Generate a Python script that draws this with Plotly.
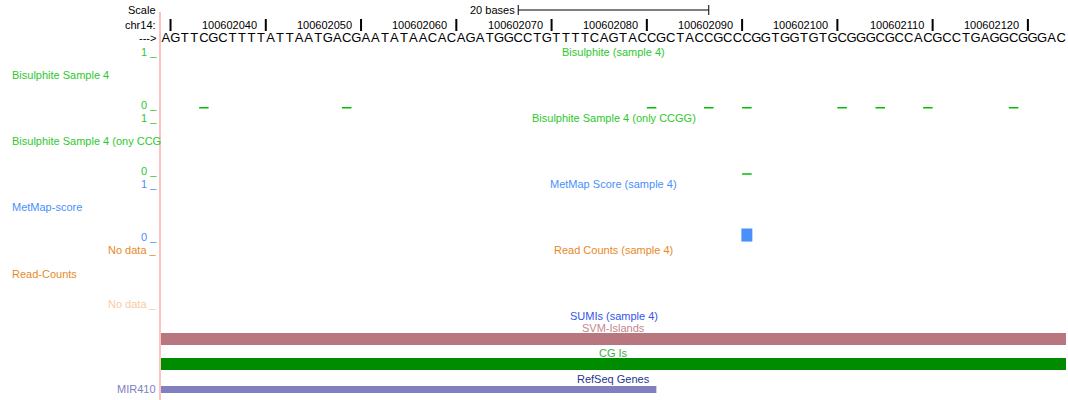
import plotly.graph_objects as go

# window (0-based start) and the reference sequence shown in it
win_start = 100602029
sequence = "AGTTCGCTTTTATTAATGACGAATATAACACAGATGGCCTGTTTTCAGTACCGCTACCGCCCGGTGGTGTGCGGGCGCCACGCCTGAGGCGGGAC"
win_end = win_start + len(sequence)

tick_pos = [100602030, 100602040, 100602050, 100602060, 100602070,
            100602080, 100602090, 100602100, 100602110, 100602120]
tick_labels = ["", "100602040", "100602050", "100602060", "100602070",
               "100602080", "100602090", "100602100", "100602110", "100602120"]
scale_bases = 20

# wiggle tracks (position = 0-based start of the base)
bisulphite_pos = [100602033, 100602048, 100602080, 100602086, 100602090,
                  100602100, 100602104, 100602109, 100602118]
bisulphite_val = [0, 0, 0, 0, 0, 0, 0, 0, 0]
ccgg_pos = [100602090]
ccgg_val = [0]
metmap_pos = [100602090]
metmap_val = [0.25]

# feature tracks
svm_islands = [(100602029, 100602124)]
cg_islands = [(100602029, 100602124)]
refseq_genes = [("MIR410", 100602029, 100602081)]

FONT = "Liberation Sans, Arial, Helvetica, sans-serif"
W, H = 1068, 400
L, R = 161, 2

GREEN_TXT = "#2ec82e"
GREEN = "#00be00"
BLUE = "#4a8ffc"
ORANGE = "#e8892a"
ORANGE_LT = "#f8cba4"


def px(x):
    return (x - L) / (W - L - R)


def py(y):
    return 1 - y / H


fig = go.Figure()

# sequence letters
fig.add_trace(go.Scatter(
    x=[win_start + i + 0.5 for i in range(len(sequence))],
    y=[38.5] * len(sequence),
    mode="text", text=list(sequence),
    textfont=dict(family=FONT, size=13, color="black"),
    cliponaxis=False, hoverinfo="skip", yaxis="y"))


def segs(pos, val):
    xs, ys = [], []
    for p, v in zip(pos, val):
        xs += [p, p + 1, None]
        ys += [v, v, None]
    return xs, ys


bx, by = segs(bisulphite_pos, bisulphite_val)
fig.add_trace(go.Scatter(x=bx, y=by, mode="lines", line=dict(color=GREEN, width=3),
                         yaxis="y2", hoverinfo="skip"))
cx, cy = segs(ccgg_pos, ccgg_val)
fig.add_trace(go.Scatter(x=cx, y=cy, mode="lines", line=dict(color=GREEN, width=3),
                         yaxis="y3", hoverinfo="skip"))
fig.add_trace(go.Bar(x=[p + 0.5 for p in metmap_pos], y=metmap_val, width=1.15,
                     marker=dict(color=BLUE, line_width=0), yaxis="y4", hoverinfo="skip"))

shapes = []
# ruler ticks
for t in tick_pos:
    shapes.append(dict(type="line", xref="x", yref="y", x0=t, x1=t, y0=19, y1=31,
                       line=dict(color="black", width=2)))
# scale bar
mid = (win_start + win_end) / 2
s0, s1 = mid - scale_bases / 2, mid + scale_bases / 2
shapes.append(dict(type="line", xref="x", yref="y", x0=s0, x1=s1, y0=10, y1=10,
                   line=dict(color="black", width=1)))
for s in (s0, s1):
    shapes.append(dict(type="line", xref="x", yref="y", x0=s, x1=s, y0=5, y1=15,
                       line=dict(color="black", width=1)))
# pink guide line
shapes.append(dict(type="line", xref="paper", yref="y", x0=px(160), x1=px(160), y0=12, y1=400,
                   line=dict(color="#ffc0c0", width=2)))
# feature bars
for a, b in svm_islands:
    shapes.append(dict(type="rect", xref="x", yref="y", x0=a, x1=b, y0=333, y1=345,
                       fillcolor="#b8777f", line_width=0))
for a, b in cg_islands:
    shapes.append(dict(type="rect", xref="x", yref="y", x0=a, x1=b, y0=358, y1=370,
                       fillcolor="#008c00", line_width=0))
for name, a, b in refseq_genes:
    shapes.append(dict(type="rect", xref="x", yref="y", x0=a, x1=b, y0=386, y1=393,
                       fillcolor="#8080c0", line_width=0))

ann = []


def text(x, y, s, color="black", anchor="right", size=11):
    ann.append(dict(xref="paper", yref="paper", x=px(x), y=py(y), text=s, showarrow=False,
                    xanchor=anchor, yanchor="middle", font=dict(family=FONT, size=size, color=color)))


text(158, 10, "Scale")
text(158, 25, "chr14:")
text(158, 38, "--->")
text(517, 10, "20 bases")
for t, lab in zip(tick_pos, tick_labels):
    if lab:
        ann.append(dict(xref="x", yref="paper", x=t, y=py(25), text=lab, showarrow=False,
                        xanchor="right", yanchor="middle", xshift=-7,
                        font=dict(family=FONT, size=11, color="black")))

cx_mid = (L + W - R) / 2
text(cx_mid, 52, "Bisulphite (sample 4)", GREEN_TXT, "center")
text(cx_mid, 118, "Bisulphite Sample 4 (only CCGG)", GREEN_TXT, "center")
text(cx_mid, 184, "MetMap Score (sample 4)", BLUE, "center")
text(cx_mid, 250, "Read Counts (sample 4)", ORANGE, "center")
text(cx_mid, 316, "SUMIs (sample 4)", "#3454ec", "center")
text(cx_mid, 328, "SVM-Islands", "#c4878f", "center")
text(cx_mid, 353, "CG Is", "#3fae3f", "center")
text(cx_mid, 379, "RefSeq Genes", "#26358f", "center")

text(10, 75, "Bisulphite Sample 4", GREEN_TXT, "left")
text(10, 141, "Bisulphite Sample 4 (ony CCG", GREEN_TXT, "left")
text(10, 207, "MetMap-score", BLUE, "left")
text(10, 274, "Read-Counts", ORANGE, "left")

text(159, 52, "1 _", GREEN_TXT)
text(159, 105, "0 _", GREEN_TXT)
text(159, 118, "1 _", GREEN_TXT)
text(159, 171, "0 _", GREEN_TXT)
text(159, 184, "1 _", BLUE)
text(159, 237, "0 _", BLUE)
text(159, 250, "No data _", ORANGE)
text(159, 304, "No data _", ORANGE_LT)
for name, a, b in refseq_genes:
    text(158, 389, name, "#8080c0")

fig.update_layout(
    width=W, height=H,
    margin=dict(l=L, r=R, t=0, b=0),
    paper_bgcolor="white", plot_bgcolor="white",
    showlegend=False, hovermode=False,
    shapes=shapes, annotations=ann,
    xaxis=dict(range=[win_start, win_end], visible=False, anchor="y"),
    yaxis=dict(range=[H, 0], domain=[0, 1], visible=False),
    yaxis2=dict(range=[0, 1], domain=[py(108.5), py(57)], visible=False, anchor="x"),
    yaxis3=dict(range=[0, 1], domain=[py(174.7), py(122)], visible=False, anchor="x"),
    yaxis4=dict(range=[0, 1], domain=[py(241.7), py(188.5)], visible=False, anchor="x"),
)

# drop the page's default body margin so the figure sits at the window's corner
fig.write_html("out.html", config={"displayModeBar": False},
               post_script="document.body.style.margin='0px';")
